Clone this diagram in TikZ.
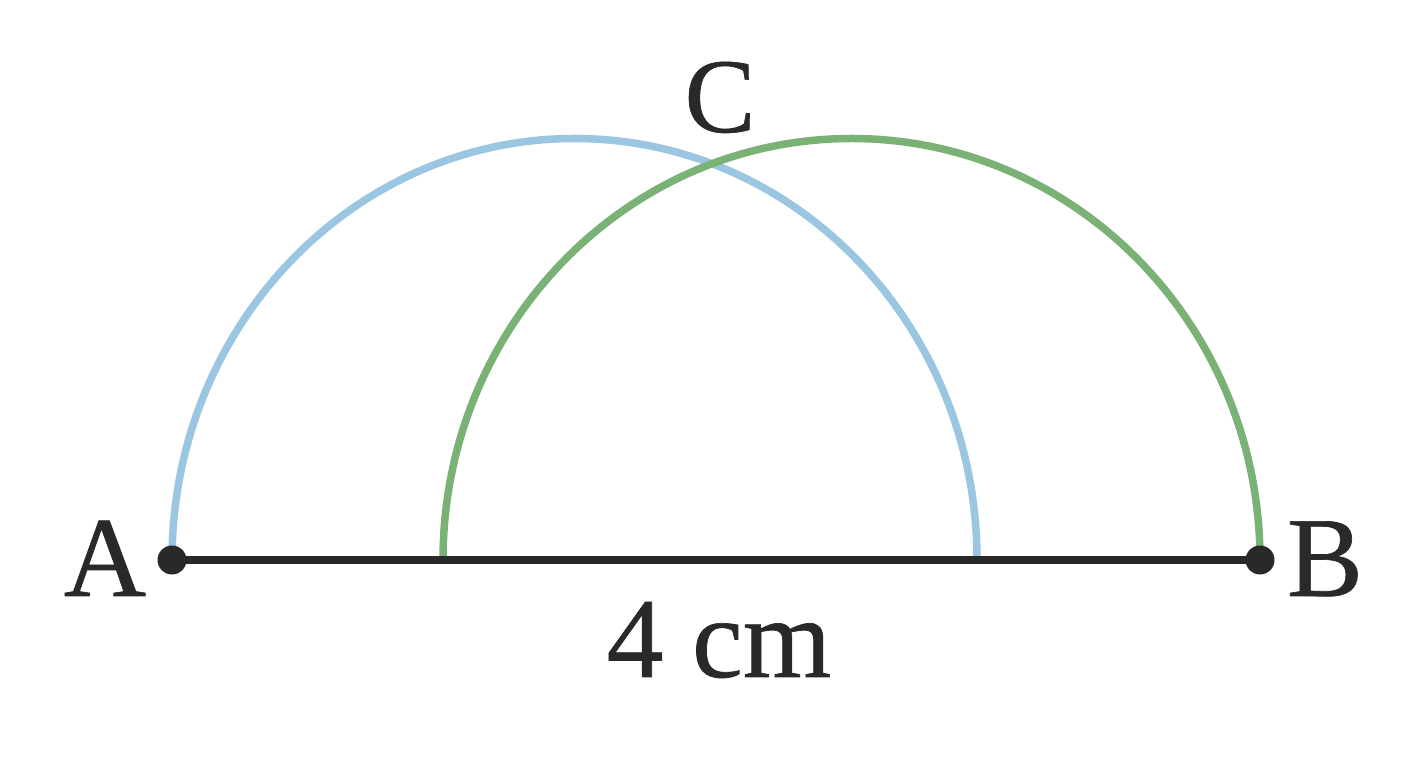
\documentclass[tikz,border=0pt]{standalone}
\usepackage{fontspec}
\setmainfont{Liberation Serif}[FakeBold=0.6,AutoFakeBold=0.6]
\definecolor{arcblue}{HTML}{9BC6E2}
\definecolor{arcgreen}{HTML}{7AB276}
\definecolor{ink}{HTML}{2B2928}
\begin{document}
\begin{tikzpicture}[x=1pt,y=1pt,
  arcline/.style={line width=7.5pt},
  seg/.style={ink,line width=8pt},
  pt/.style={circle,fill=ink,inner sep=0pt,minimum size=29pt},
  lbl/.style={text=ink,font=\fontsize{114}{120}\selectfont,anchor=base,inner sep=0pt}]
\useasboundingbox (0,0) rectangle (1408,768);
\fill[white] (0,0) rectangle (1408,768);
\coordinate (A) at (172,208);
\coordinate (B) at (1260,208);
\draw[arcline,arcblue] (172,208) arc[start angle=180,end angle=0,x radius=402.5,y radius=421.5];
\draw[arcline,arcgreen] (443,208) arc[start angle=180,end angle=0,x radius=408.5,y radius=421.5];
\draw[seg] (A) -- (B);
\node[pt] (dA) at (A) {};
\node[pt] (dB) at (B) {};
\node[lbl] (lA) at (105,172) {A};
\node[lbl] (lB) at (1325,172) {B};
\node[lbl,font=\fontsize{106}{110}\selectfont] (lC) at (720,636) {C};
\node[lbl] (len) at (719,91) {4 cm};
\end{tikzpicture}
\end{document}
